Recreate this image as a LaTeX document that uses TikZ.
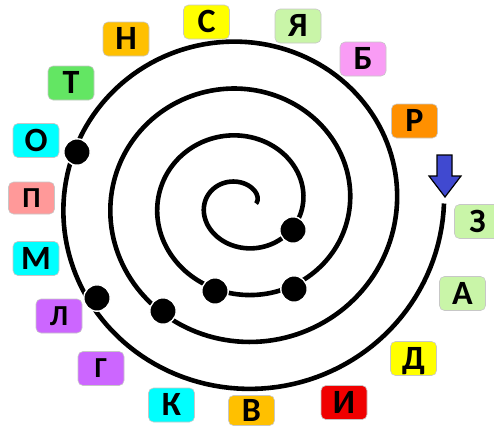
\documentclass[tikz,border=0pt]{standalone}
\usepackage{fontspec}
\setmainfont{Carlito}
\definecolor{cyel}{HTML}{FFFF00}
\definecolor{cgold}{HTML}{FFC000}
\definecolor{cgreen}{HTML}{63E663}
\definecolor{ccyan}{HTML}{00FFFF}
\definecolor{csalmon}{HTML}{FF9999}
\definecolor{cpurple}{HTML}{CC66FF}
\definecolor{cred}{HTML}{F00000}
\definecolor{clgreen}{HTML}{C9F5A8}
\definecolor{cpink}{HTML}{F99CF5}
\definecolor{corange}{HTML}{FF9000}
\definecolor{carrow}{HTML}{4049D0}
\tikzset{
  lbox/.style={draw=black!22, line width=0.6pt, rounded corners=5pt,
    minimum width=46pt, minimum height=34pt, inner sep=0pt,
    font=\fontsize{34}{34}\selectfont\bfseries, text height=21.5pt, text depth=0pt},
  lboxs/.style={lbox, font=\fontsize{29}{29}\selectfont\bfseries, text height=18.3pt},
  stopdot/.style={circle, fill=black, draw=white, line width=1.4pt,
    minimum size=26.4pt, inner sep=0pt},
  spiralline/.style={line width=4.6pt, line cap=butt, line join=round},
  arrowshape/.style={fill=carrow, draw=black, line width=1.2pt, line join=miter}
}
\begin{document}
\begin{tikzpicture}[x=1pt,y=-1pt]
\clip (0,0) rectangle (494,429);
\fill[white] (0,0) rectangle (494,429);
% spiral
\draw[spiralline] plot[domain=0:1440, samples=600, variable=\t]
  ({242+(202-0.130556*\t)*cos(\t)}, {203.5+(197-0.130556*\t)*sin(\t)});
% stops on the path
\node[stopdot] (d1) at (77,152) {};
\node[stopdot] (d2) at (97,298) {};
\node[stopdot] (d3) at (163,311) {};
\node[stopdot] (d4) at (215,291) {};
\node[stopdot] (d5) at (294,289) {};
\node[stopdot] (d6) at (293,230) {};
% start arrow
\draw[arrowshape] (437,155) -- (452,155) -- (452,176) -- (461,176) -- (445,197)
  -- (429,176) -- (437,176) -- cycle;
% letter boxes
\node[lbox, fill=cyel] (s) at (206.5,22) {С};
\node[lbox, fill=clgreen] (ya) at (298,26) {Я};
\node[lbox, fill=cpink] (b) at (363,59) {Б};
\node[lbox, fill=corange] (r) at (414.5,121) {Р};
\node[lbox, fill=clgreen] (z) at (477.5,221.5) {З};
\node[lbox, fill=clgreen] (a) at (462.5,293.5) {А};
\node[lbox, fill=cyel] (d) at (413.5,358.5) {Д};
\node[lbox, fill=cred] (i) at (344,402.5) {И};
\node[lbox, fill=cgold, minimum height=30pt] (v) at (251.5,410.5) {В};
\node[lbox, fill=ccyan] (k) at (171.5,405) {К};
\node[lboxs, fill=cpurple] (g) at (101,368.5) {Г};
\node[lboxs, fill=cpurple] (l) at (59,316) {Л};
\node[lbox, fill=ccyan] (m) at (36,258.5) {М};
\node[lboxs, fill=csalmon, minimum height=32pt] (p) at (31.5,198) {П};
\node[lbox, fill=ccyan] (o) at (36,140.5) {О};
\node[lbox, fill=cgreen] (t) at (71,83) {Т};
\node[lbox, fill=cgold] (n) at (126,39) {Н};
\end{tikzpicture}
\end{document}
